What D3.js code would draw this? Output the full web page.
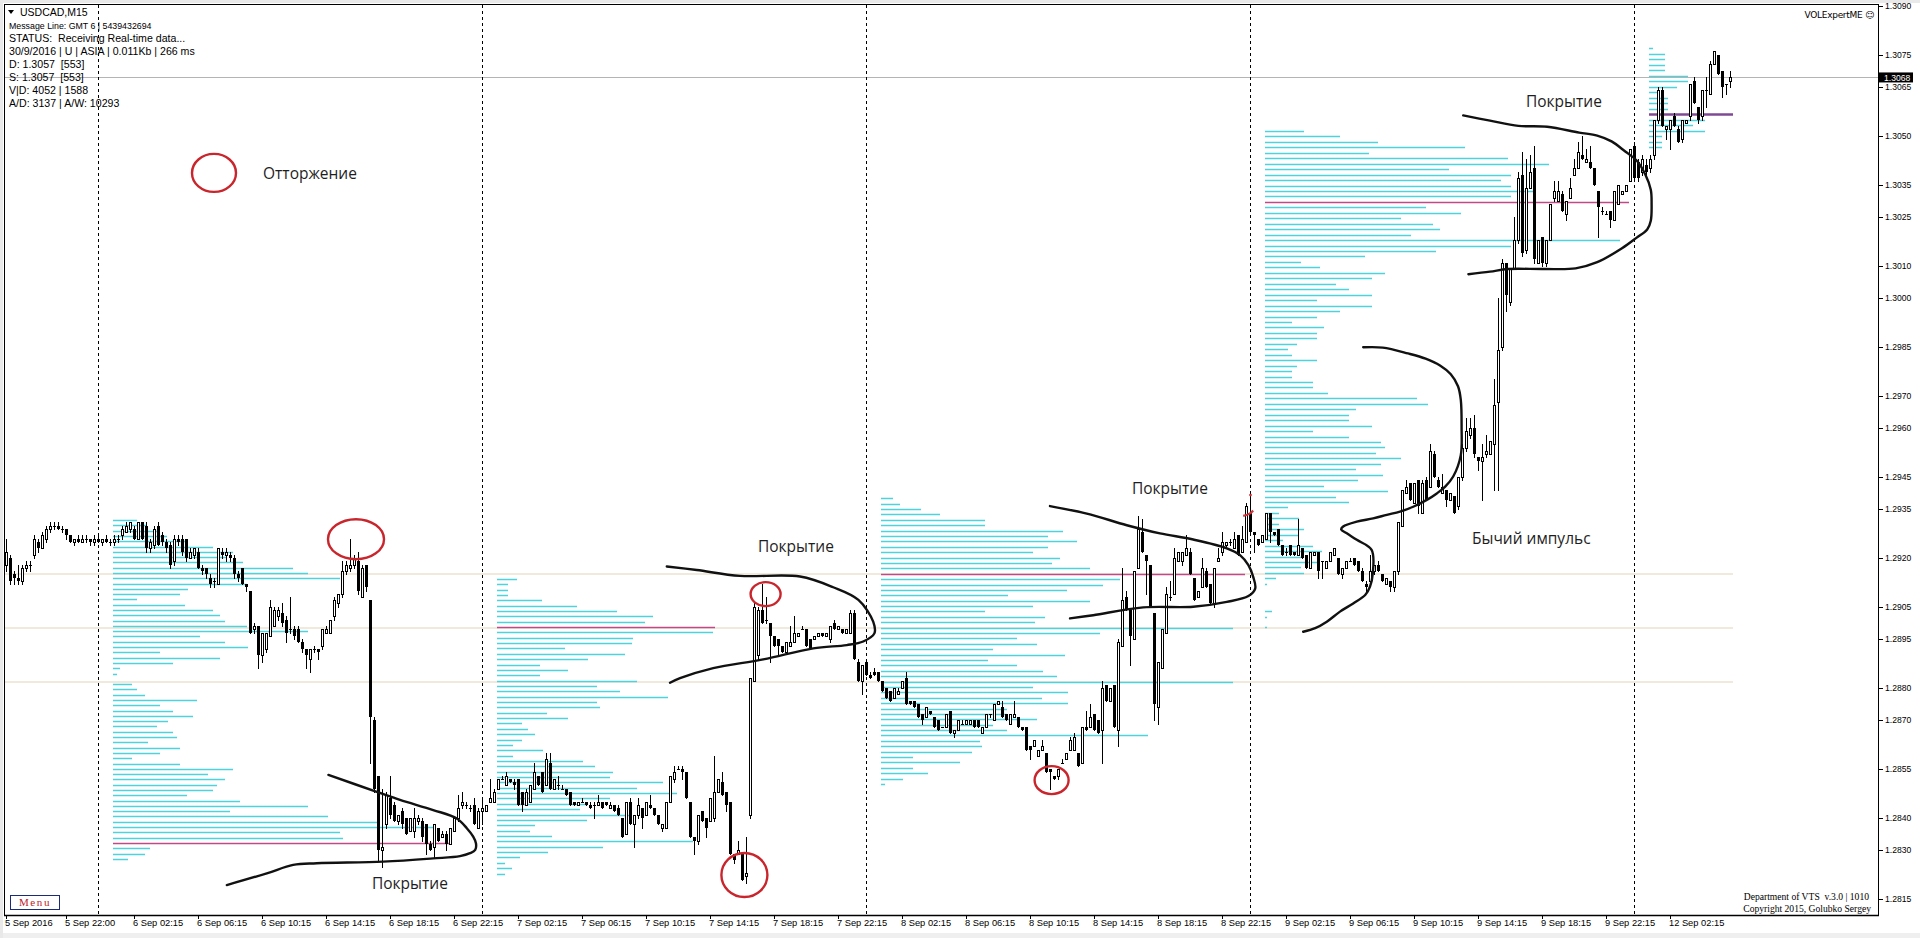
<!DOCTYPE html>
<html><head><meta charset="utf-8">
<script src="https://cdn.jsdelivr.net/npm/d3@7"></script>
<style>body{margin:0;background:#fff;overflow:hidden} text{white-space:pre}</style>
</head><body>
<svg id="c" width="1920" height="938"></svg>
<script>
// ---------- DATA (prices in pips above 1.2800; [open, high, low, close]) ----------
const bars5Sep = [[118,126,116,122],[120,121,112,113],[115,116,112,114],[114,118,112,113],[113,118,112,117],[117,119,116,118],[118,119,116,118],[121,127,120,126],[125,126,122,123],[123,128,123,127],[126,130,125,129],[129,131,128,130],[130,131,129,130],[130,131,129,129],[129,130,128,129],[129,129,126,127],[127,127,125,125],[125,126,124,126],[126,127,125,125],[125,127,125,126],[126,127,125,126],[126,126,124,125],[125,127,124,126]];
const bars6Sep = [[126,127,125,125],[125,126,124,126],[126,127,125,125],[125,126,124,125],[125,127,124,126],[126,127,125,126],[127,130,126,129],[128,131,128,130],[129,131,128,131],[129,130,126,126],[126,131,126,131],[131,131,126,126],[130,131,122,123],[123,126,122,125],[124,130,123,129],[130,131,124,124],[127,128,124,125],[125,126,122,123],[124,125,117,118],[119,127,118,126],[126,127,124,125],[126,127,121,122],[126,126,119,120],[120,123,120,122],[121,123,120,123],[122,123,117,117],[117,118,115,116],[117,117,114,115],[114,115,111,112],[113,114,111,113],[112,123,112,123],[122,123,120,121],[121,123,119,122],[121,122,119,120],[120,121,114,115],[115,116,113,114],[117,117,112,112],[112,112,110,111],[110,110,97,97],[98,100,97,99],[99,99,86,90],[90,97,88,97],[92,97,91,97],[96,107,96,105],[99,105,99,104],[102,105,101,104],[103,106,99,100],[101,102,94,97],[98,108,97,98],[98,99,95,96],[98,99,94,94],[94,95,91,92],[92,92,86,90],[89,92,85,92],[92,93,91,92],[92,92,89,91],[93,98,92,98],[97,99,97,98],[97,101,97,101],[102,108,101,107],[106,109,105,109],[109,119,108,116],[116,119,115,118],[117,126,116,118],[118,121,117,120],[119,122,109,110],[108,118,108,117],[118,118,110,111],[107,107,57,71],[70,71,48,49],[53,53,27,30],[30,49,25,31],[38,48,37,47],[46,53,40,41],[44,45,39,39],[39,41,38,41],[42,43,37,38],[40,40,35,35],[36,40,36,40],[36,43,34,40],[39,41,38,40],[39,40,33,34],[38,38,29,32],[32,33,30,30],[31,38,28,38],[37,37,33,33],[34,36,34,35],[35,36,30,32],[32,37,32,37],[36,40,36,40],[40,47,39,43],[44,48,43,45],[44,45,43,44],[43,44,42,43],[44,46,38,38],[37,43,37,42]];
const bars7Sep = [[42,46,38,43],[42,44,42,44],[45,52,45,46],[45,49,45,48],[49,52,49,52],[52,53,52,52],[50,54,50,53],[52,52,51,51],[51,52,49,50],[52,52,44,44],[48,48,42,44],[44,49,44,48],[45,50,45,50],[49,57,49,54],[53,53,50,50],[54,54,48,48],[50,60,50,58],[57,60,49,49],[49,52,49,52],[50,53,49,50],[49,50,49,49],[49,49,47,47],[48,48,44,44],[45,45,44,44],[44,45,44,45],[45,46,45,45],[45,45,44,44],[44,45,43,43],[44,45,40,44],[44,47,44,45],[45,45,43,43],[45,45,44,44],[43,45,43,44],[44,44,42,42],[43,44,41,41],[40,40,34,34],[35,45,35,45],[45,46,38,38],[38,41,31,41],[41,46,40,44],[43,43,37,40],[41,45,41,45],[44,47,43,43],[43,43,41,41],[41,41,38,38],[37,38,36,38],[37,45,37,45],[45,53,45,53],[52,56,51,54],[55,56,55,55],[55,56,52,54],[54,54,46,46],[45,45,34,34],[34,34,29,33],[33,41,32,41],[42,42,39,39],[40,40,34,37],[39,46,39,46],[40,59,39,48],[48,52,48,52],[51,54,47,47],[48,48,42,44],[45,45,29,29],[29,29,26,27],[29,33,29,30],[29,29,21,21],[22,34,20,23],[41,83,40,83],[82,106,82,105],[90,105,89,104],[104,112,100,100],[101,108,100,101],[100,100,88,96],[96,96,93,93],[95,95,90,93],[93,93,91,91],[91,94,91,94],[93,99,93,94],[94,102,94,97],[96,97,96,97],[98,99,98,98],[98,98,93,93],[95,95,92,92],[95,96,95,96],[96,97,96,97],[97,97,96,96],[96,97,96,97],[95,99,94,99],[100,101,98,98],[98,99,98,99],[98,98,97,97],[97,98,97,98],[97,104,97,103],[103,104,89,89],[88,89,82,82],[82,87,78,87]];
const bars8Sep = [[88,88,84,84],[84,85,83,83],[85,86,84,84],[85,85,82,82],[82,82,79,79],[80,80,77,77],[79,79,76,76],[77,80,77,80],[78,80,78,79],[80,82,80,82],[83,85,75,75],[76,76,75,75],[76,76,74,74],[75,75,71,71],[72,72,69,70],[71,74,71,74],[73,73,72,72],[71,71,68,68],[70,70,67,67],[68,68,68,68],[68,72,68,72],[73,73,66,66],[66,67,65,67],[67,70,67,70],[69,70,69,69],[69,70,69,70],[69,70,69,70],[70,70,68,68],[70,70,68,68],[66,68,66,68],[68,72,68,72],[72,72,71,72],[70,75,70,75],[75,76,75,76],[74,76,71,71],[72,72,70,70],[69,72,69,72],[71,76,71,72],[71,71,68,68],[68,68,67,67],[68,68,61,61],[62,62,58,61],[62,64,62,64],[59,61,59,61],[61,64,61,62],[60,60,54,54],[55,55,49,54],[53,53,52,52],[53,55,52,55],[57,58,57,57],[58,60,58,60],[61,65,61,64],[61,66,61,65],[60,60,56,56],[57,68,57,68],[68,73,67,67],[68,75,68,71],[72,72,67,67],[70,70,66,66],[67,82,57,80],[81,81,76,76],[76,80,76,80],[81,81,68,68],[67,95,62,94],[93,117,93,107],[108,110,104,104],[104,104,87,96],[95,116,95,116],[117,133,117,129],[128,132,122,122],[121,121,109,119],[118,118,105,105],[103,103,70,75],[74,88,69,88],[86,98,86,98],[97,111,97,109],[108,113,107,108],[109,123,109,120],[119,122,119,122],[119,122,118,122],[121,127,121,123],[122,123,115,115],[114,114,107,107],[108,110,108,110],[111,120,111,117],[116,117,111,111],[112,112,106,106],[106,117,105,117],[119,123,119,120],[122,128,121,125],[124,125,123,125],[125,126,124,125],[123,128,123,126],[127,127,121,121],[122,130,122,126],[125,137,125,136]];
const bars9Sep = [[134,140,128,128],[128,128,122,127],[126,126,124,124],[125,127,125,127],[126,134,126,134],[134,134,125,128],[128,128,127,127],[129,129,124,124],[124,124,121,121],[122,123,121,122],[124,124,121,121],[122,122,121,121],[121,132,121,124],[123,123,120,120],[121,121,117,117],[117,122,117,122],[121,122,121,122],[122,122,114,116],[119,119,114,119],[117,119,117,119],[119,122,119,122],[121,123,121,123],[120,120,115,115],[115,117,114,117],[117,119,117,119],[119,120,119,119],[120,120,118,118],[119,119,116,116],[116,117,113,113],[112,113,110,111],[113,121,113,116],[116,118,115,118],[118,119,116,116],[115,115,113,113],[112,114,112,114],[113,113,110,111],[111,116,110,116],[116,131,115,131],[130,141,130,141],[140,144,140,142],[143,143,138,138],[137,143,137,143],[144,144,134,136],[134,144,134,143],[144,145,138,138],[142,155,142,153],[152,153,145,145],[144,145,142,142],[140,146,140,142],[141,141,136,138],[138,140,138,140],[139,139,134,134],[136,145,135,145],[145,155,144,154],[154,163,153,159],[158,163,157,160],[160,164,151,152],[151,151,147,150],[150,155,138,151],[152,158,151,153],[152,156,152,156],[155,175,141,167],[168,200,141,184],[185,212,184,211],[211,211,196,201],[199,209,198,209],[209,225,209,218],[218,239,217,237],[238,245,213,214],[215,243,214,234],[234,244,234,239],[240,247,211,212],[211,218,211,218],[219,219,210,211],[211,218,210,218],[218,229,218,229],[231,236,230,233],[230,236,230,233],[232,233,227,227],[226,230,224,230],[231,237,231,234],[238,243,238,240],[240,248,240,245],[244,250,243,243],[242,246,242,243],[242,247,240,240],[240,240,235,235],[233,233,219,228],[227,228,226,227],[226,227,226,226],[227,227,222,224],[224,233,224,233],[229,235,229,235],[232,233,232,233],[233,235,233,235],[236,246,236,246]];
const bars12Sep = [[247,248,236,237],[242,243,236,237],[239,244,238,243],[241,243,238,239],[240,244,239,243],[244,255,243,255],[255,265,254,264],[264,265,253,253],[252,253,249,253],[252,255,246,255],[256,257,253,253],[252,253,248,248],[249,255,248,255],[254,255,254,255],[256,266,255,266],[267,268,260,260],[259,259,254,255],[256,264,255,264],[264,268,259,264],[263,273,263,272],[272,276,272,276],[275,275,269,269],[270,270,262,265],[266,266,263,266],[267,270,265,268]];

// volume profiles (one value per price row, top row first)
const vol6Sep = [24,34,44,54,74,100,120,114,130,180,195,227,134,75,67,24,72,100,107,112,134,195,87,112,135,47,107,60,7,4,0,19,24,32,84,47,60,80,55,44,60,64,35,67,47,19,67,120,95,112,104,100,74,127,195,117,215,267,320,227,230,339,37,32,15];
const vol7Sep = [20,11,11,11,45,80,120,156,148,218,216,136,135,68,128,91,43,71,43,140,100,123,171,100,103,50,71,25,31,38,25,16,46,16,86,98,116,113,166,140,180,113,91,83,135,90,38,33,55,196,106,51,23,8,15,8];
const vol8Sep = [12,19,40,59,104,104,182,167,196,167,152,179,171,209,364,239,222,186,127,209,152,104,164,154,352,219,136,156,112,184,107,136,162,176,352,152,187,161,187,126,126,156,112,126,267,99,101,91,32,79,32,47,22,4];
const vol9Sep = [39,75,113,200,104,243,284,184,246,236,246,271,246,364,161,196,136,168,175,146,355,246,171,100,36,55,120,107,71,84,107,52,107,75,52,27,59,52,52,32,23,27,52,32,27,27,48,48,63,152,163,91,84,84,107,48,84,116,120,111,136,116,91,118,93,59,123,71,84,23,14,34,14,39,34,18,48,57,36,55,36,39,11,2,0,0,0,0,7,2,0,2];
const vol12Sep = [4,16,16,16,16,39,39,28,11,19,19,19,84,56,44,56,13,13,13];
const profileDayBar = [23, 119, 215, 311, 407];
const profileTopPip = [131.7, 113.6, 138.4, 251.5, 277.0];
const profileStepPip = [1.63, 1.65, 1.66, 1.68, 1.69];

const levelPrices = [1.29151, 1.28984, 1.28819];
const currentPrice = 1.3068;
const yTickValues = [1.3090,1.3075,1.3065,1.3050,1.3035,1.3025,1.3010,1.3000,1.2985,1.2970,1.2960,1.2945,1.2935,1.2920,1.2905,1.2895,1.2880,1.2870,1.2855,1.2840,1.2830,1.2815];
const timeLabels = ["5 Sep 2016","5 Sep 22:00","6 Sep 02:15","6 Sep 06:15","6 Sep 10:15","6 Sep 14:15","6 Sep 18:15","6 Sep 22:15","7 Sep 02:15","7 Sep 06:15","7 Sep 10:15","7 Sep 14:15","7 Sep 18:15","7 Sep 22:15","8 Sep 02:15","8 Sep 06:15","8 Sep 10:15","8 Sep 14:15","8 Sep 18:15","8 Sep 22:15","9 Sep 02:15","9 Sep 06:15","9 Sep 10:15","9 Sep 14:15","9 Sep 18:15","9 Sep 22:15","12 Sep 02:15"];
const timeLabelBars = [0,15,32,48,64,80,96,112,128,144,160,176,192,208,224,240,256,272,288,304,320,336,352,368,384,400,416];
const daySeparatorBars = [23,119,215,311,407];

// hand-drawn annotations: [bar index, pip]
const curveCover6 = [[80.6,53.2],[92.7,48.0],[98.5,45.5],[106.8,42.4],[112.7,39.8],[115.2,36.8],[116.8,34.2],[117.5,32.1],[117.3,30.1],[116,29.1],[113.5,28.2],[106.8,27.5],[94.3,26.5],[77.7,26.0],[71.8,25.5],[65.2,22.9],[55.2,19.3]];
const curveCover7 = [[165.2,117.4],[172.7,116.3],[183.5,114.5],[198.5,114.3],[206.8,111.0],[213.1,107.1],[216.8,100.4],[217.1,96.8],[214.3,94.3],[210.2,93.2],[201.8,92.2],[189.3,88.8],[176.8,86.1],[168.5,83.0],[166,81.6]];
const curveCover8 = [[261,136.0],[270.2,133.7],[280.2,130.1],[288.5,127.6],[296.8,125.7],[305.2,123.0],[308.5,120.9],[310.6,117.8],[311.8,114.2],[312.3,110.6],[310.6,108.3],[305.2,106.5],[296.8,105.0],[284.3,104.8],[271.8,102.4],[266,101.4]];
const curveImpulse = [[339.3,184.9],[344.2,184.8],[350.5,183.0],[354.9,181.4],[358.5,179.3],[361.2,176.6],[363,172.9],[363.7,168.7],[363.9,160.2],[363.7,151.7],[361.8,145.1],[359.8,142.0],[357.7,139.9],[355.2,137.9],[351.8,135.8],[348.5,134.3],[345.2,133.3],[341.8,132.2],[337.7,131.2],[334.3,129.7],[333.8,128.8],[335.2,127.6],[337.7,125.6],[341.4,122.5],[341.7,115.3],[341,111.2],[339.8,108.6],[336.8,106.0],[333.5,103.5],[330.2,100.4],[327.3,98.4],[324.3,97.3]];
const curveCover9 = [[364.3,256.3],[371,254.7],[378.1,253.1],[385.3,252.8],[393.3,251.0],[397.8,250.1],[401.4,248.3],[404.9,245.1],[407.6,242.5],[409.8,238.2],[411.2,233.4],[411.4,229.2],[411.2,223.9],[410.3,221.2],[407.6,218.6],[404,215.4],[397.8,211.1],[392.4,209.2],[384.4,209.0],[375.5,209.0],[371,208.2],[365.6,207.4]];
const redEllipses = [{i:52,p:238.6,rx:22,ry:19},{i:87.5,p:125.8,rx:28,ry:20},{i:189.9,p:108.9,rx:15,ry:12},{i:184.6,p:22.4,rx:23,ry:22},{i:261.4,p:51.6,rx:17,ry:14}];
const noteTexts = [{t:"Отторжение",i:64.25,p:236.7},{t:"Покрытие",i:91.5,p:18.1},{t:"Покрытие",i:188,p:121.9},{t:"Покрытие",i:281.5,p:139.7},{t:"Покрытие",i:380,p:258.9},{t:"Бычий импульс",i:366.5,p:124.3}];
const infoLines = ["Message Line: GMT 6 | 5439432694","STATUS:  Receiving Real-time data...","30/9/2016 | U | ASIA | 0.011Kb | 266 ms","D: 1.3057  [553]","S: 1.3057  [553]","V|D: 4052 | 1588","A/D: 3137 | A/W: 10293"];

// ---------- SCALES ----------
const svg = d3.select("#c");
const x = d3.scaleLinear().domain([0, 467]).range([6, 1874]);
const y = d3.scaleLinear().domain([1.2815, 1.3090]).range([899, 6]);
const pip = v => 1.28 + v / 10000;
const volPx = d3.scaleLinear().domain([0, 100]).range([0, 100]);
const bars = [].concat(bars5Sep, bars6Sep, bars7Sep, bars8Sep, bars9Sep, bars12Sep);
const lastBar = bars.length - 1;

// background chrome
svg.append("rect").attr("width",1920).attr("height",938).attr("fill","#fff");
svg.append("rect").attr("width",1920).attr("height",3).attr("fill","#e9e9e9");
svg.append("rect").attr("y",933).attr("width",1920).attr("height",5).attr("fill","#efefef");
svg.append("rect").attr("width",3).attr("height",938).attr("fill","#e9e9e9");

const plot = svg.append("g");

// beige level lines
plot.selectAll("line.lvl").data(levelPrices).join("line")
  .attr("x1",5).attr("x2",x(lastBar)+3)
  .attr("y1",d=>Math.round(y(d))).attr("y2",d=>Math.round(y(d)))
  .attr("stroke","#f1e9dc").attr("stroke-width",2);

// volume profiles
const profiles = [vol6Sep, vol7Sep, vol8Sep, vol9Sep, vol12Sep];
profiles.forEach((vols, k) => {
  const x0 = x(profileDayBar[k]) + 15;
  const maxIdx = d3.maxIndex(vols);
  const g = plot.append("g");
  g.selectAll("line").data(vols).join("line")
    .attr("x1", x0)
    .attr("x2", d => x0 + volPx(d))
    .attr("y1", (d,j) => Math.round(y(pip(profileTopPip[k] - j*profileStepPip[k]))) + 0.5)
    .attr("y2", (d,j) => Math.round(y(pip(profileTopPip[k] - j*profileStepPip[k]))) + 0.5)
    .attr("stroke", (d,j) => j === maxIdx ? (k === 4 ? "#7d4a93" : "#c04a86") : "#4fd3da")
    .attr("stroke-width", (d,j) => j === maxIdx && k === 4 ? 2.5 : 1.5)
    .attr("opacity", d => d > 0 ? 1 : 0);
});

// current price line
plot.append("line").attr("x1",5).attr("x2",1878)
  .attr("y1",Math.round(y(currentPrice))+0.5).attr("y2",Math.round(y(currentPrice))+0.5)
  .attr("stroke","#b4b4b4").attr("stroke-width",1);

// day separators
plot.selectAll("line.sep").data(daySeparatorBars).join("line")
  .attr("x1",d=>Math.round(x(d))+0.5).attr("x2",d=>Math.round(x(d))+0.5)
  .attr("y1",5).attr("y2",915)
  .attr("stroke","#000").attr("stroke-width",1).attr("stroke-dasharray","3,3");

// candles
const cg = plot.append("g").attr("shape-rendering","crispEdges");
cg.selectAll("line.w").data(bars).join("line")
  .attr("x1",(d,i)=>Math.round(x(i))+0.5).attr("x2",(d,i)=>Math.round(x(i))+0.5)
  .attr("y1",d=>Math.round(y(pip(d[1])))).attr("y2",d=>Math.round(y(pip(d[2])))+1)
  .attr("stroke","#000").attr("stroke-width",1);
cg.selectAll("rect.b").data(bars).join("rect")
  .attr("x",(d,i)=> d[3] >= d[0] ? Math.round(x(i))-0.5 : Math.round(x(i))-1)
  .attr("width",d=> d[3] >= d[0] ? 2 : 3)
  .attr("y",d=>{const t=Math.round(y(pip(Math.max(d[0],d[3])))); return d[3]>=d[0]? t+0.5 : t;})
  .attr("height",d=>{const t=Math.round(y(pip(Math.max(d[0],d[3])))), b=Math.round(y(pip(Math.min(d[0],d[3])))); return Math.max(d[3]>=d[0]?0.01:1, b-t);})
  .attr("fill",d=> d[3] >= d[0] ? "#fff" : "#000")
  .attr("stroke",d=> d[3] >= d[0] ? "#000" : "none").attr("stroke-width",1);

// red marker near 9 Sep open
plot.append("path")
  .attr("d", d3.line().curve(d3.curveCatmullRom)([[x(309.3),y(pip(133.0))],[x(310.8),y(pip(133.6))],[x(311.8),y(pip(134.6))]]))
  .attr("fill","none").attr("stroke","#d0343a").attr("stroke-width",2.2);
plot.append("circle").attr("cx",x(311)+0.5).attr("cy",y(pip(139.4))).attr("r",1.4).attr("fill","#d0343a");

// hand-drawn curves
const ln = d3.line().x(d=>x(d[0])).y(d=>y(pip(d[1]))).curve(d3.curveCatmullRom.alpha(0.5));
[curveCover6, curveCover7, curveCover8, curveImpulse, curveCover9].forEach(c=>{
  plot.append("path").attr("d",ln(c)).attr("fill","none").attr("stroke","#111").attr("stroke-width",2.4).attr("stroke-linejoin","round").attr("stroke-linecap","round");
});

// red ellipses
plot.selectAll("ellipse").data(redEllipses).join("ellipse")
  .attr("cx",d=>x(d.i)).attr("cy",d=>y(pip(d.p))).attr("rx",d=>d.rx).attr("ry",d=>d.ry)
  .attr("fill","none").attr("stroke","#c9252c").attr("stroke-width",2.4);

// annotation texts
plot.selectAll("text.note").data(noteTexts).join("text")
  .attr("x",d=>x(d.i)).attr("y",d=>y(pip(d.p)))
  .attr("font-family","'Open Sans', 'Noto Sans', sans-serif").attr("font-size",15.5)
  .attr("fill","#1e1e1e").text(d=>d.t);

// frame and axes
svg.append("rect").attr("x",4.5).attr("y",4.5).attr("width",1874).attr("height",911)
  .attr("fill","none").attr("stroke","#000").attr("stroke-width",1);
svg.append("line").attr("x1",4).attr("x2",1879).attr("y1",915.5).attr("y2",915.5).attr("stroke","#000").attr("stroke-width",1.5);

// y axis
const yAxis = svg.append("g");
yAxis.selectAll("line").data(yTickValues).join("line")
  .attr("x1",1879).attr("x2",1883).attr("y1",d=>Math.round(y(d))+0.5).attr("y2",d=>Math.round(y(d))+0.5)
  .attr("stroke","#000");
yAxis.selectAll("text").data(yTickValues).join("text")
  .attr("x",1885).attr("y",d=>y(d)+3)
  .attr("font-family","'Liberation Sans', Arial, sans-serif").attr("font-size",8.6)
  .attr("fill","#000").text(d=>d3.format(".4f")(d));
// current price tag
svg.append("rect").attr("x",1879).attr("y",y(currentPrice)-5).attr("width",34).attr("height",10).attr("fill","#000");
svg.append("text").attr("x",1884).attr("y",y(currentPrice)+3.2)
  .attr("font-family","'Liberation Sans', Arial, sans-serif").attr("font-size",8.6)
  .attr("fill","#fff").text(d3.format(".4f")(currentPrice));

// x axis labels
const xAxis = svg.append("g");
xAxis.selectAll("line").data(timeLabelBars).join("line")
  .attr("x1",d=>Math.round(x(d))+0.5).attr("x2",d=>Math.round(x(d))+0.5).attr("y1",916).attr("y2",919).attr("stroke","#000");
xAxis.selectAll("text").data(timeLabels).join("text")
  .attr("x",(d,k)=>Math.max(3, x(timeLabelBars[k]) - 1)).attr("y",926)
  .attr("font-family","'Liberation Sans', Arial, sans-serif").attr("font-size",9.3)
  .attr("fill","#000").text(d=>d);

// header info
svg.append("path").attr("d","M8,10 L14,10 L11,14 Z").attr("fill","#000");
svg.append("text").attr("x",20).attr("y",16).attr("font-family","'Liberation Sans', Arial, sans-serif").attr("font-size",10.5).text("USDCAD,M15");
svg.selectAll("text.info").data(infoLines).join("text")
  .attr("x",9).attr("y",(d,k)=> k===0 ? 28.5 : 42 + (k-1)*12.9)
  .attr("font-family","'Liberation Sans', Arial, sans-serif")
  .attr("font-size",(d,k)=> k===0 ? 8.8 : 10.6)
  .attr("fill","#000").text(d=>d);

svg.append("text").attr("x",1874).attr("y",18).attr("text-anchor","end")
  .attr("font-family","'DejaVu Sans', sans-serif").attr("font-size",9).attr("letter-spacing",-0.3)
  .text("VOLExpertME ☺");

svg.append("text").attr("x",1869).attr("y",900).attr("text-anchor","end")
  .attr("font-family","'Liberation Serif', serif").attr("font-size",9.6).text("Department of VTS  v.3.0 | 1010");
svg.append("text").attr("x",1871).attr("y",912).attr("text-anchor","end")
  .attr("font-family","'Liberation Serif', serif").attr("font-size",9.6).text("Copyright 2015, Golubko Sergey");

// Menu button
svg.append("rect").attr("x",10.5).attr("y",895.5).attr("width",49).attr("height",14).attr("fill","#fff").attr("stroke","#1c2a7a").attr("stroke-width",1);
svg.append("text").attr("x",35).attr("y",906).attr("text-anchor","middle")
  .attr("font-family","'Liberation Serif', serif").attr("font-size",11).attr("letter-spacing",1.6)
  .attr("fill","#c0202a").text("Menu");
</script>
</body></html>
